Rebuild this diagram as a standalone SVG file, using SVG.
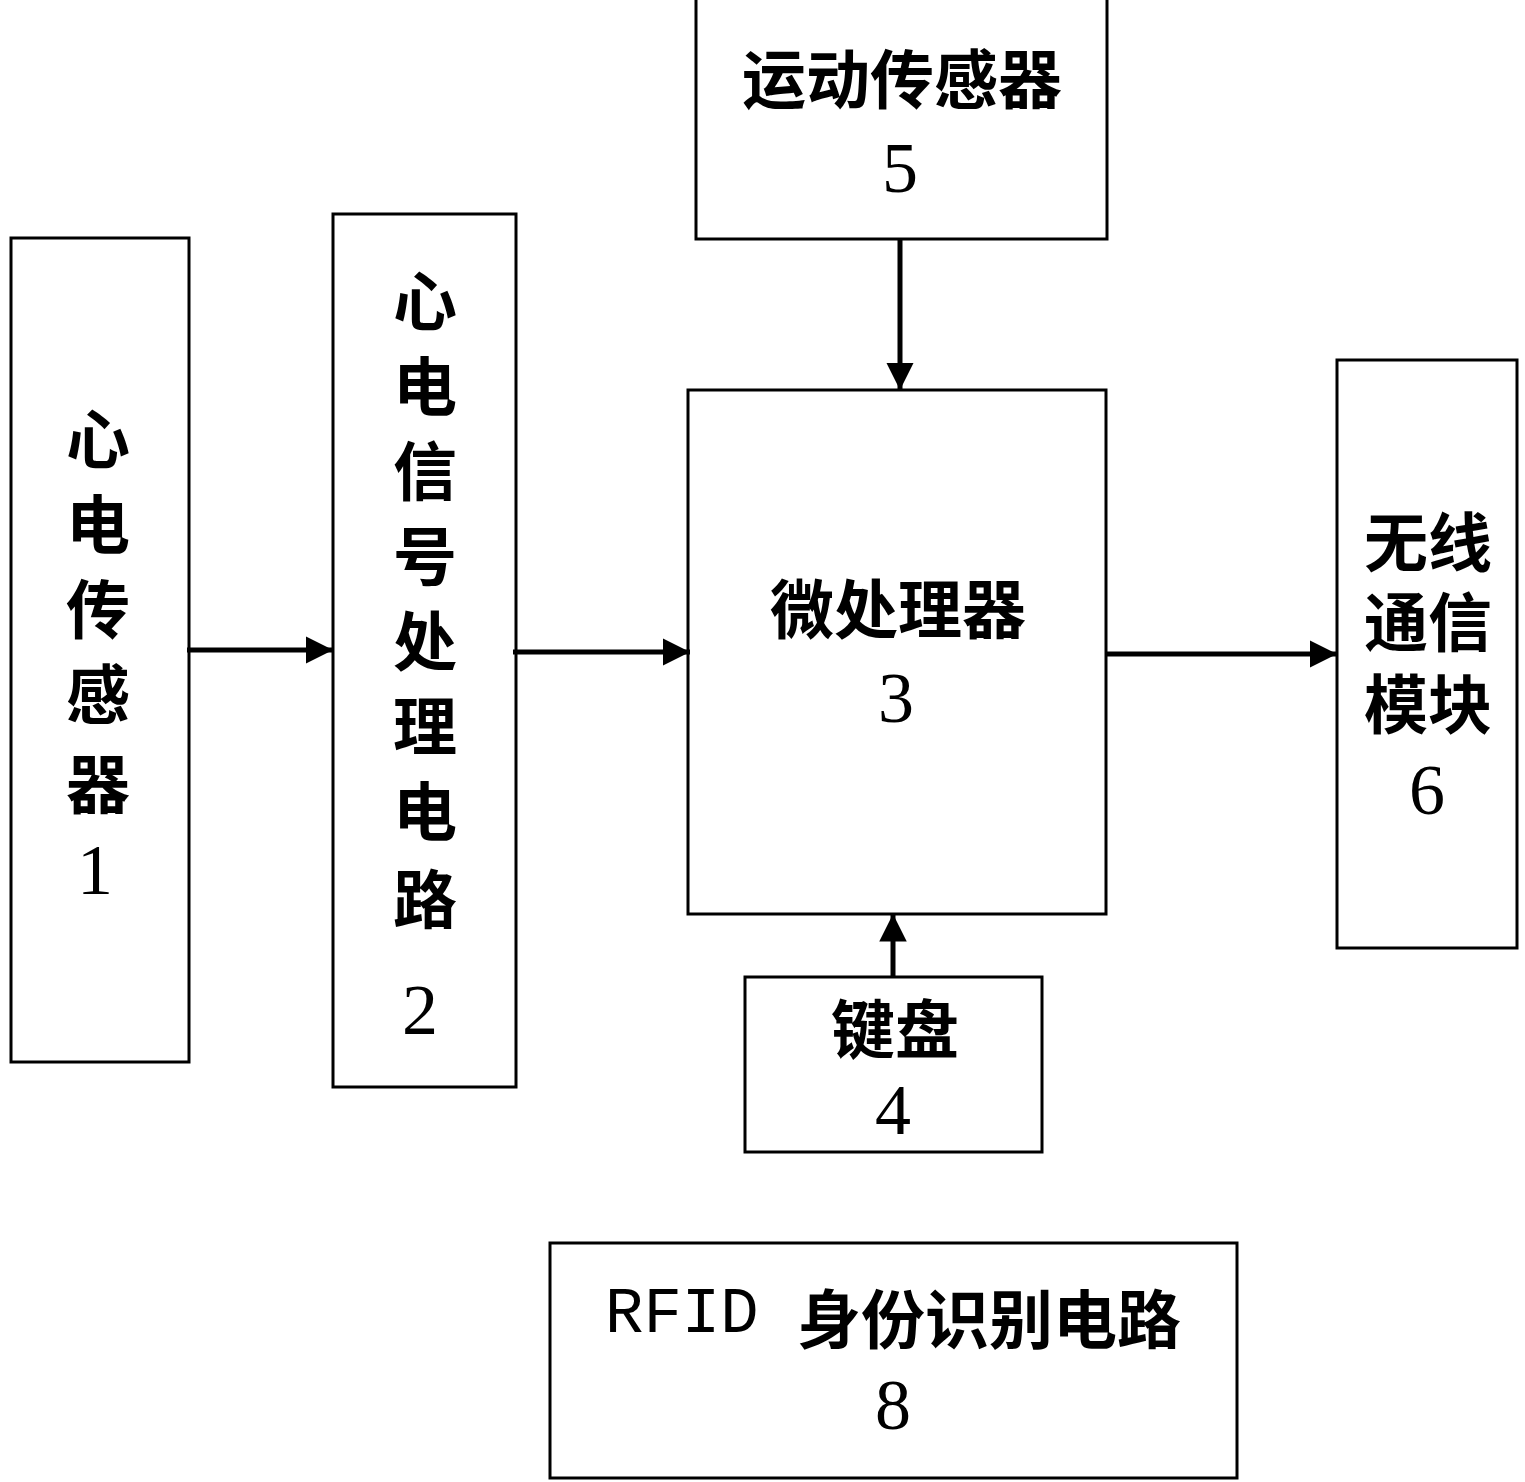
<svg xmlns="http://www.w3.org/2000/svg" width="1525" height="1482" viewBox="0 0 1525 1482">
<style>
.b{fill:#fff;stroke:#000;stroke-width:3}
.c{font-family:"Noto Sans CJK SC",sans-serif;font-size:64px;font-weight:bold;text-anchor:middle;dominant-baseline:central}
.n{font-family:"Liberation Serif",serif;font-size:72px;text-anchor:middle;dominant-baseline:central}
.l{stroke:#000;stroke-width:5;fill:none}
</style>
<defs><marker id="m" viewBox="0 0 10 10" refX="10" refY="5" markerWidth="5.5" markerHeight="6" orient="auto"><path d="M0,0L10,5L0,10z"/></marker></defs>
<rect width="1525" height="1482" fill="#fff"/>
<g id="n1"><rect class="b" x="11" y="238" width="178" height="824"/>
<text class="c" x="98" y="435">心</text><text class="c" x="98" y="520">电</text><text class="c" x="98" y="605">传</text><text class="c" x="98" y="690">感</text><text class="c" x="98" y="780">器</text><text class="n" x="95" y="870">1</text></g>
<g id="n2"><rect class="b" x="333" y="214" width="183" height="873"/>
<text class="c" x="425" y="297">心</text><text class="c" x="425" y="382">电</text><text class="c" x="425" y="467">信</text><text class="c" x="425" y="552">号</text><text class="c" x="425" y="637">处</text><text class="c" x="425" y="722">理</text><text class="c" x="425" y="807">电</text><text class="c" x="425" y="895">路</text><text class="n" x="420" y="1010">2</text></g>
<g id="n5"><rect class="b" x="696" y="-2" width="411" height="241"/>
<text class="c" x="902" y="75">运动传感器</text><text class="n" x="900" y="168">5</text></g>
<g id="n3"><rect class="b" x="688" y="390" width="418" height="524"/>
<text class="c" x="898" y="605">微处理器</text><text class="n" x="896" y="698">3</text></g>
<g id="n6"><rect class="b" x="1337" y="360" width="180" height="588"/>
<text class="c" x="1428" y="538">无线</text><text class="c" x="1428" y="618">通信</text><text class="c" x="1428" y="700">模块</text><text class="n" x="1427" y="790">6</text></g>
<g id="n4"><rect class="b" x="745" y="977" width="297" height="175"/>
<text class="c" x="895" y="1025">键盘</text><text class="n" x="893" y="1110">4</text></g>
<g id="n8"><rect class="b" x="550" y="1243" width="687" height="235"/>
<text x="893" y="1315" style="font-size:64px;text-anchor:middle;dominant-baseline:central"><tspan font-family="Liberation Mono,monospace">RFID </tspan><tspan font-family="Noto Sans CJK SC,sans-serif" font-weight="bold">身份识别电路</tspan></text><text class="n" x="893" y="1405">8</text></g>
<g id="connectors">
<path class="l" d="M187,650H333" marker-end="url(#m)"/>
<path class="l" d="M513,652H690" marker-end="url(#m)"/>
<path class="l" d="M1105,654H1337" marker-end="url(#m)"/>
<path class="l" d="M900,240V390" marker-end="url(#m)"/>
<path class="l" d="M893,977V914" marker-end="url(#m)"/>
</g>
</svg>
